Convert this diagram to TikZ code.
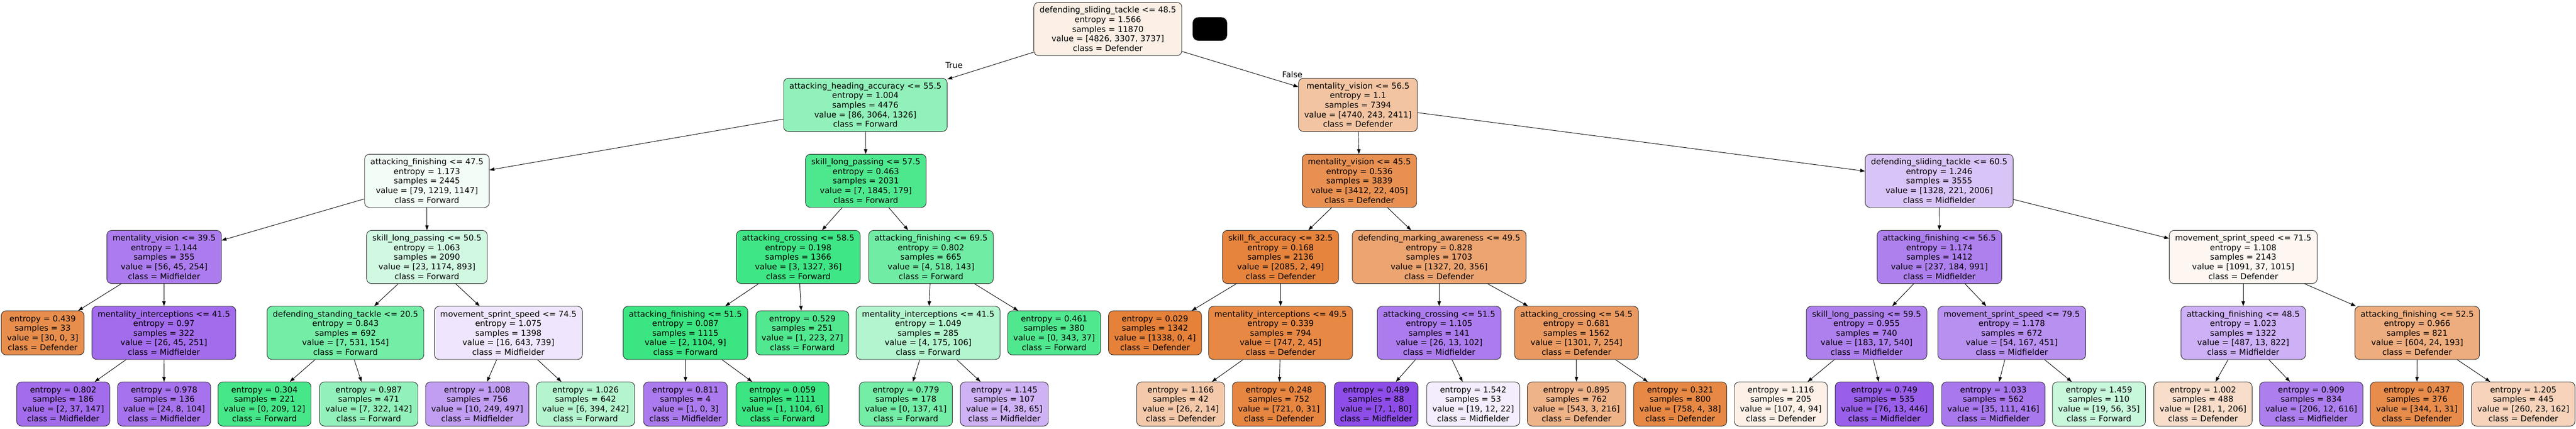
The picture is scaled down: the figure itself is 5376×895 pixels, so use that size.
\documentclass[tikz,border=0pt]{standalone}
\usepackage{fontspec}
\usetikzlibrary{arrows.meta}
\newfontfamily\dejavu{DejaVu Sans}
\newcommand{\treefont}{\dejavu\fontsize{8.45pt}{10pt}\selectfont}
\definecolor{defc}{HTML}{E58139}
\definecolor{fwdc}{HTML}{39E581}
\definecolor{midc}{HTML}{8139E5}
\tikzset{
  split/.style={draw=black!85, line width=0.5pt, rounded corners=5pt, align=center, font=\treefont, inner xsep=6pt, inner ysep=0pt, minimum height=55.5pt},
  leaf/.style={split, minimum height=46pt},
  tedge/.style={-{Triangle[length=5pt,width=3.6pt]}, line width=0.5pt},
  lbl/.style={font=\treefont, inner sep=0pt}
}
\begin{document}
\begin{tikzpicture}[x=0.5pt,y=-0.5pt]

    \fill[white] (0,0) rectangle (5376,895);
    \useasboundingbox (0,0) rectangle (5376,895);

    % root and first split
    \node[split, fill=defc!13] (root) at (2312,60.5) {defending\_sliding\_tackle \textless= 48.5\\entropy = 1.566\\samples = 11870\\value = [4826, 3307, 3737]\\class = Defender};
    \fill[black, rounded corners=6pt] (2489,36) rectangle (2561,85);
    \node[split, fill=fwdc!55] (aha) at (1806,219) {attacking\_heading\_accuracy \textless= 55.5\\entropy = 1.004\\samples = 4476\\value = [86, 3064, 1326]\\class = Forward};
    \node[split, fill=defc!47] (mvA) at (2834,219) {mentality\_vision \textless= 56.5\\entropy = 1.1\\samples = 7394\\value = [4740, 243, 2411]\\class = Defender};
    \node[lbl] (ltrue) at (1991,136) {True};
    \node[lbl] (lfalse) at (2697,156) {False};

    % depth 2
    \node[split, fill=fwdc!6] (afA) at (891,377.5) {attacking\_finishing \textless= 47.5\\entropy = 1.173\\samples = 2445\\value = [79, 1219, 1147]\\class = Forward};
    \node[split, fill=fwdc!90] (slpA) at (1807,377.5) {skill\_long\_passing \textless= 57.5\\entropy = 0.463\\samples = 2031\\value = [7, 1845, 179]\\class = Forward};
    \node[split, fill=defc!88] (mvB) at (2837,377.5) {mentality\_vision \textless= 45.5\\entropy = 0.536\\samples = 3839\\value = [3412, 22, 405]\\class = Defender};
    \node[split, fill=midc!30] (dstA) at (4047,377.5) {defending\_sliding\_tackle \textless= 60.5\\entropy = 1.246\\samples = 3555\\value = [1328, 221, 2006]\\class = Midfielder};

    % depth 3
    \node[split, fill=midc!66] (mvC) at (342.5,536.5) {mentality\_vision \textless= 39.5\\entropy = 1.144\\samples = 355\\value = [56, 45, 254]\\class = Midfielder};
    \node[split, fill=fwdc!23] (slpB) at (891,536.5) {skill\_long\_passing \textless= 50.5\\entropy = 1.063\\samples = 2090\\value = [23, 1174, 893]\\class = Forward};
    \node[split, fill=fwdc!97] (acA) at (1666,536.5) {attacking\_crossing \textless= 58.5\\entropy = 0.198\\samples = 1366\\value = [3, 1327, 36]\\class = Forward};
    \node[split, fill=fwdc!72] (afB) at (1943,536.5) {attacking\_finishing \textless= 69.5\\entropy = 0.802\\samples = 665\\value = [4, 518, 143]\\class = Forward};
    \node[split, fill=defc!98] (sfk) at (2672.5,536.5) {skill\_fk\_accuracy \textless= 32.5\\entropy = 0.168\\samples = 2136\\value = [2085, 2, 49]\\class = Defender};
    \node[split, fill=defc!72] (dma) at (3003.5,536.5) {defending\_marking\_awareness \textless= 49.5\\entropy = 0.828\\samples = 1703\\value = [1327, 20, 356]\\class = Defender};
    \node[split, fill=midc!64] (afC) at (4047.5,536.5) {attacking\_finishing \textless= 56.5\\entropy = 1.174\\samples = 1412\\value = [237, 184, 991]\\class = Midfielder};
    \node[split, fill=defc!7] (mssA) at (4681.5,536.5) {movement\_sprint\_speed \textless= 71.5\\entropy = 1.108\\samples = 2143\\value = [1091, 37, 1015]\\class = Defender};

    % depth 4
    \node[leaf, fill=defc!90] (l439) at (89,695) {entropy = 0.439\\samples = 33\\value = [30, 0, 3]\\class = Defender};
    \node[split, fill=midc!74] (miA) at (342,695) {mentality\_interceptions \textless= 41.5\\entropy = 0.97\\samples = 322\\value = [26, 45, 251]\\class = Midfielder};
    \node[split, fill=fwdc!70] (dstB) at (721,695) {defending\_standing\_tackle \textless= 20.5\\entropy = 0.843\\samples = 692\\value = [7, 531, 154]\\class = Forward};
    \node[split, fill=midc!13] (mssB) at (1061,695) {movement\_sprint\_speed \textless= 74.5\\entropy = 1.075\\samples = 1398\\value = [16, 643, 739]\\class = Midfielder};
    \node[split, fill=fwdc!99] (afD) at (1430.5,695) {attacking\_finishing \textless= 51.5\\entropy = 0.087\\samples = 1115\\value = [2, 1104, 9]\\class = Forward};
    \node[leaf, fill=fwdc!88] (l529) at (1674.5,695) {entropy = 0.529\\samples = 251\\value = [1, 223, 27]\\class = Forward};
    \node[split, fill=fwdc!39] (miB) at (1937,695) {mentality\_interceptions \textless= 41.5\\entropy = 1.049\\samples = 285\\value = [4, 175, 106]\\class = Forward};
    \node[leaf, fill=fwdc!89] (l461) at (2200,695) {entropy = 0.461\\samples = 380\\value = [0, 343, 37]\\class = Forward};
    \node[leaf, fill=defc!100] (l029) at (2410.5,695) {entropy = 0.029\\samples = 1342\\value = [1338, 0, 4]\\class = Defender};
    \node[split, fill=defc!94] (miC) at (2672.5,695) {mentality\_interceptions \textless= 49.5\\entropy = 0.339\\samples = 794\\value = [747, 2, 45]\\class = Defender};
    \node[split, fill=midc!66] (acB) at (3003.5,695) {attacking\_crossing \textless= 51.5\\entropy = 1.105\\samples = 141\\value = [26, 13, 102]\\class = Midfielder};
    \node[split, fill=defc!80] (acC) at (3290,695) {attacking\_crossing \textless= 54.5\\entropy = 0.681\\samples = 1562\\value = [1301, 7, 254]\\class = Defender};
    \node[split, fill=midc!64] (slpC) at (3895.5,695) {skill\_long\_passing \textless= 59.5\\entropy = 0.955\\samples = 740\\value = [183, 17, 540]\\class = Midfielder};
    \node[split, fill=midc!56] (mssC) at (4198.5,695) {movement\_sprint\_speed \textless= 79.5\\entropy = 1.178\\samples = 672\\value = [54, 167, 451]\\class = Midfielder};
    \node[split, fill=midc!40] (afE) at (4681.5,695) {attacking\_finishing \textless= 48.5\\entropy = 1.023\\samples = 1322\\value = [487, 13, 822]\\class = Midfielder};
    \node[split, fill=defc!65] (afF) at (5044.5,695) {attacking\_finishing \textless= 52.5\\entropy = 0.966\\samples = 821\\value = [604, 24, 193]\\class = Defender};

    % depth 5, all leaves
    \node[leaf, fill=midc!74] (l802) at (132,843.5) {entropy = 0.802\\samples = 186\\value = [2, 37, 147]\\class = Midfielder};
    \node[leaf, fill=midc!71] (l978) at (342.5,843.5) {entropy = 0.978\\samples = 136\\value = [24, 8, 104]\\class = Midfielder};
    \node[leaf, fill=fwdc!94] (l304) at (552,843.5) {entropy = 0.304\\samples = 221\\value = [0, 209, 12]\\class = Forward};
    \node[leaf, fill=fwdc!55] (l987) at (769.5,843.5) {entropy = 0.987\\samples = 471\\value = [7, 322, 142]\\class = Forward};
    \node[leaf, fill=midc!49] (l1008) at (996,843.5) {entropy = 1.008\\samples = 756\\value = [10, 249, 497]\\class = Midfielder};
    \node[leaf, fill=fwdc!38] (l1026) at (1222,843.5) {entropy = 1.026\\samples = 642\\value = [6, 394, 242]\\class = Forward};
    \node[leaf, fill=midc!67] (l811) at (1430.5,843.5) {entropy = 0.811\\samples = 4\\value = [1, 0, 3]\\class = Midfielder};
    \node[leaf, fill=fwdc!99] (l059) at (1633,843.5) {entropy = 0.059\\samples = 1111\\value = [1, 1104, 6]\\class = Forward};
    \node[leaf, fill=fwdc!70] (l779) at (1890.5,843.5) {entropy = 0.779\\samples = 178\\value = [0, 137, 41]\\class = Forward};
    \node[leaf, fill=midc!39] (l1145) at (2096,843.5) {entropy = 1.145\\samples = 107\\value = [4, 38, 65]\\class = Midfielder};
    \node[leaf, fill=defc!43] (l1166) at (2464,843.5) {entropy = 1.166\\samples = 42\\value = [26, 2, 14]\\class = Defender};
    \node[leaf, fill=defc!96] (l248) at (2669,843.5) {entropy = 0.248\\samples = 752\\value = [721, 0, 31]\\class = Defender};
    \node[leaf, fill=midc!90] (l489) at (2872,843.5) {entropy = 0.489\\samples = 88\\value = [7, 1, 80]\\class = Midfielder};
    \node[leaf, fill=midc!9] (l1542) at (3074.5,843.5) {entropy = 1.542\\samples = 53\\value = [19, 12, 22]\\class = Midfielder};
    \node[leaf, fill=defc!60] (l895) at (3290,843.5) {entropy = 0.895\\samples = 762\\value = [543, 3, 216]\\class = Defender};
    \node[leaf, fill=defc!94] (l321) at (3506.5,843.5) {entropy = 0.321\\samples = 800\\value = [758, 4, 38]\\class = Defender};
    \node[leaf, fill=defc!12] (l1116) at (3716.5,843.5) {entropy = 1.116\\samples = 205\\value = [107, 4, 94]\\class = Defender};
    \node[leaf, fill=midc!81] (l749) at (3932.5,843.5) {entropy = 0.749\\samples = 535\\value = [76, 13, 446]\\class = Midfielder};
    \node[leaf, fill=midc!68] (l1033) at (4160,843.5) {entropy = 1.033\\samples = 562\\value = [35, 111, 416]\\class = Midfielder};
    \node[leaf, fill=fwdc!28] (l1459) at (4380.5,843.5) {entropy = 1.459\\samples = 110\\value = [19, 56, 35]\\class = Forward};
    \node[leaf, fill=defc!27] (l1002) at (4597.5,843.5) {entropy = 1.002\\samples = 488\\value = [281, 1, 206]\\class = Defender};
    \node[leaf, fill=midc!65] (l909) at (4823.5,843.5) {entropy = 0.909\\samples = 834\\value = [206, 12, 616]\\class = Midfielder};
    \node[leaf, fill=defc!91] (l437) at (5044,843.5) {entropy = 0.437\\samples = 376\\value = [344, 1, 31]\\class = Defender};
    \node[leaf, fill=defc!35] (l1205) at (5266,843.5) {entropy = 1.205\\samples = 445\\value = [260, 23, 162]\\class = Defender};

    % connectors
    \draw[tedge] (root) -- (aha);
    \draw[tedge] (root) -- (mvA);
    \draw[tedge] (aha) -- (afA);
    \draw[tedge] (aha) -- (slpA);
    \draw[tedge] (mvA) -- (mvB);
    \draw[tedge] (mvA) -- (dstA);
    \draw[tedge] (afA) -- (mvC);
    \draw[tedge] (afA) -- (slpB);
    \draw[tedge] (slpA) -- (acA);
    \draw[tedge] (slpA) -- (afB);
    \draw[tedge] (mvB) -- (sfk);
    \draw[tedge] (mvB) -- (dma);
    \draw[tedge] (dstA) -- (afC);
    \draw[tedge] (dstA) -- (mssA);
    \draw[tedge] (mvC) -- (l439);
    \draw[tedge] (mvC) -- (miA);
    \draw[tedge] (slpB) -- (dstB);
    \draw[tedge] (slpB) -- (mssB);
    \draw[tedge] (acA) -- (afD);
    \draw[tedge] (acA) -- (l529);
    \draw[tedge] (afB) -- (miB);
    \draw[tedge] (afB) -- (l461);
    \draw[tedge] (sfk) -- (l029);
    \draw[tedge] (sfk) -- (miC);
    \draw[tedge] (dma) -- (acB);
    \draw[tedge] (dma) -- (acC);
    \draw[tedge] (afC) -- (slpC);
    \draw[tedge] (afC) -- (mssC);
    \draw[tedge] (mssA) -- (afE);
    \draw[tedge] (mssA) -- (afF);
    \draw[tedge] (miA) -- (l802);
    \draw[tedge] (miA) -- (l978);
    \draw[tedge] (dstB) -- (l304);
    \draw[tedge] (dstB) -- (l987);
    \draw[tedge] (mssB) -- (l1008);
    \draw[tedge] (mssB) -- (l1026);
    \draw[tedge] (afD) -- (l811);
    \draw[tedge] (afD) -- (l059);
    \draw[tedge] (miB) -- (l779);
    \draw[tedge] (miB) -- (l1145);
    \draw[tedge] (miC) -- (l1166);
    \draw[tedge] (miC) -- (l248);
    \draw[tedge] (acB) -- (l489);
    \draw[tedge] (acB) -- (l1542);
    \draw[tedge] (acC) -- (l895);
    \draw[tedge] (acC) -- (l321);
    \draw[tedge] (slpC) -- (l1116);
    \draw[tedge] (slpC) -- (l749);
    \draw[tedge] (mssC) -- (l1033);
    \draw[tedge] (mssC) -- (l1459);
    \draw[tedge] (afE) -- (l1002);
    \draw[tedge] (afE) -- (l909);
    \draw[tedge] (afF) -- (l437);
    \draw[tedge] (afF) -- (l1205);

\end{tikzpicture}
\end{document}
